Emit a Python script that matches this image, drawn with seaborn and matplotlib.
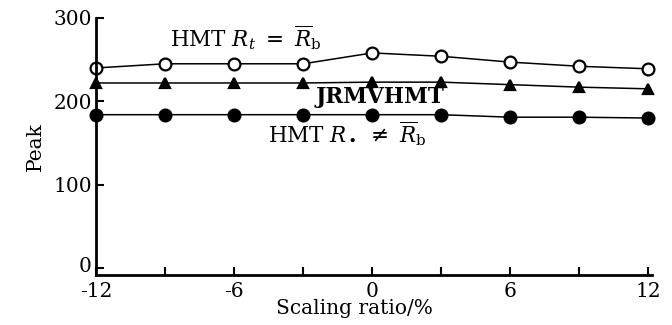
import numpy as np
import pandas as pd
import matplotlib
matplotlib.use("Agg")
import matplotlib.pyplot as plt
import matplotlib.transforms as mtransforms
import seaborn as sns

# values
scaling_ratio = [-12, -9, -6, -3, 0, 3, 6, 9, 12]
hmt_equal = [240, 245, 245, 245, 258, 254, 247, 242, 239]
jrmvhmt = [222, 222, 222, 222, 223, 223, 220, 217, 215]
hmt_unequal = [184, 184, 184, 184, 184, 184, 181, 181, 180]

x_ticks = [-12, -6, 0, 6, 12]
x_minor = [-9, -3, 3, 9]
y_ticks = [0, 100, 200, 300]

sns.set_style("ticks")
plt.rcParams['font.family'] = ['DejaVu Serif']
plt.rcParams['mathtext.fontset'] = 'dejavuserif'
for key in ['text.color', 'axes.labelcolor', 'xtick.color', 'ytick.color']:
    plt.rcParams[key] = 'black'

fig = plt.figure(figsize=(6.72, 3.25), dpi=100)
ax = fig.add_axes([0.143, 0.154, 0.827, 0.791])

series = {
    'HMT eq': (hmt_equal, dict(marker='o', markerfacecolor='white', markersize=8.5)),
    'JRMVHMT': (jrmvhmt, dict(marker='^', markerfacecolor='black', markersize=7.5)),
    'HMT neq': (hmt_unequal, dict(marker='o', markerfacecolor='black', markersize=8.5)),
}
for name, (vals, style) in series.items():
    df = pd.DataFrame({'x': scaling_ratio, 'y': vals})
    sns.lineplot(data=df, x='x', y='y', ax=ax, color='black', linewidth=1.1,
                 markeredgecolor='black', markeredgewidth=1.6, clip_on=False, **style)

ax.set_xlim(-12, 12.15)
ax.set_ylim(-8, 300)
ax.set_xticks(x_ticks)
ax.set_xticks(x_minor, minor=True)
ax.set_yticks(y_ticks)
ax.tick_params(axis='both', which='both', direction='in', width=1.5, color='black')
ax.tick_params(axis='x', which='major', length=6, labelsize=14.5, pad=5)
ax.tick_params(axis='x', which='minor', length=6)
ax.tick_params(axis='y', which='major', length=6, labelsize=14.5, pad=3)
ax.set_xticklabels(['-12', '-6', '0', '6', '12'])
# the reference lifts the "0" label a little above the axis line
zero_label = ax.get_yticklabels()[0]
zero_label.set_transform(zero_label.get_transform()
                         + mtransforms.ScaledTranslation(0, 0.04, fig.dpi_scale_trans))
sns.despine(ax=ax)
for s in ['left', 'bottom']:
    ax.spines[s].set_linewidth(2)
    ax.spines[s].set_color('black')

ax.set_xlabel('Scaling ratio/%', fontsize=14.5, labelpad=0)
ax.xaxis.set_label_coords(0.465, -0.095)
ax.set_ylabel('Peak', fontsize=14.5, labelpad=6)

ax.text(-8.8, 277, r'HMT $R_t\ =\ \overline{R}_\mathrm{b}$', fontsize=15.5, va='center')
ax.text(-2.45, 205, 'JRMVHMT', fontsize=15.5, va='center', fontweight='bold')
ax.text(-4.55, 162, r'HMT $R_\bullet\ \neq\ \overline{R}_\mathrm{b}$', fontsize=15.5, va='center')

fig.savefig('out.png', dpi=100)
